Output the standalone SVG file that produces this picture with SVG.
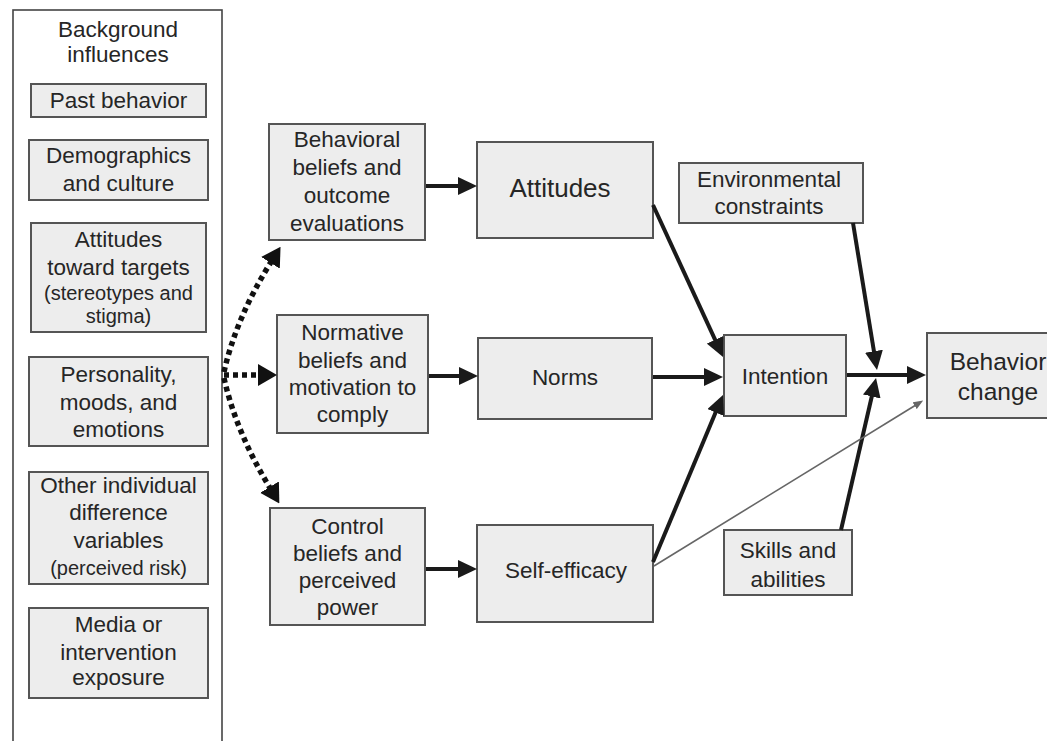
<svg xmlns="http://www.w3.org/2000/svg" width="1047" height="741" viewBox="0 0 1047 741">
<style>
.box{fill:#ededed;stroke:#555;stroke-width:2}
.outer{fill:#fff;stroke:#444;stroke-width:1.6}
text{font-family:"Liberation Sans",Arial,sans-serif;font-size:22.5px;fill:#262626;text-anchor:middle}
.sm{font-size:20px}
.big{font-size:26px}
.bc{font-size:24.5px}
.arr{fill:none;stroke:#1a1a1a;stroke-width:4}
.dot{fill:none;stroke:#111;stroke-width:5.5;stroke-dasharray:5 4}
.thin{fill:none;stroke:#666;stroke-width:1.6}
</style>
<defs>
<marker id="ah" markerUnits="userSpaceOnUse" markerWidth="19" markerHeight="18" refX="1" refY="9" orient="auto" viewBox="0 0 19 18">
<path d="M0,0 L19,9 L0,18 z" fill="#1a1a1a"/>
</marker>
<marker id="ahd" markerUnits="userSpaceOnUse" markerWidth="19" markerHeight="22" refX="1" refY="11" orient="auto" viewBox="0 0 19 22">
<path d="M0,0 L19,11 L0,22 z" fill="#111"/>
</marker>
<marker id="aht" markerUnits="userSpaceOnUse" markerWidth="10" markerHeight="8" refX="1" refY="4" orient="auto" viewBox="0 0 10 8">
<path d="M0,0 L10,4 L0,8 z" fill="#666"/>
</marker>
</defs>

<g id="background-influences">
<rect class="outer" x="13" y="10" width="209" height="760"/>
<text x="118" y="37">Background</text>
<text x="118" y="62">influences</text>
</g>
<g id="past-behavior">
<rect class="box" x="31" y="84" width="175" height="33"/>
<text x="118.5" y="108">Past behavior</text>
</g>
<g id="demographics">
<rect class="box" x="29" y="140" width="179" height="60"/>
<text x="118.5" y="163">Demographics</text>
<text x="118.5" y="191">and culture</text>
</g>
<g id="attitudes-toward-targets">
<rect class="box" x="31" y="223" width="175" height="109"/>
<text x="118.5" y="247">Attitudes</text>
<text x="118.5" y="275">toward targets</text>
<text class="sm" x="118.5" y="300">(stereotypes and</text>
<text class="sm" x="118.5" y="323">stigma)</text>
</g>
<g id="personality">
<rect class="box" x="29" y="357" width="179" height="89"/>
<text x="118.5" y="382">Personality,</text>
<text x="118.5" y="410">moods, and</text>
<text x="118.5" y="437">emotions</text>
</g>
<g id="other-individual">
<rect class="box" x="29" y="472" width="179" height="112"/>
<text x="118.5" y="493">Other individual</text>
<text x="118.5" y="520">difference</text>
<text x="118.5" y="548">variables</text>
<text class="sm" x="118.5" y="575">(perceived risk)</text>
</g>
<g id="media">
<rect class="box" x="29" y="608" width="179" height="90"/>
<text x="118.5" y="632">Media or</text>
<text x="118.5" y="660">intervention</text>
<text x="118.5" y="685">exposure</text>
</g>

<g id="behavioral-beliefs">
<rect class="box" x="269" y="124" width="156" height="116"/>
<text x="347" y="147">Behavioral</text>
<text x="347" y="175">beliefs and</text>
<text x="347" y="203">outcome</text>
<text x="347" y="231">evaluations</text>
</g>
<g id="normative-beliefs">
<rect class="box" x="277" y="315" width="151" height="118"/>
<text x="352.5" y="340">Normative</text>
<text x="352.5" y="368">beliefs and</text>
<text x="352.5" y="395">motivation to</text>
<text x="352.5" y="422">comply</text>
</g>
<g id="control-beliefs">
<rect class="box" x="270" y="508" width="155" height="117"/>
<text x="347.5" y="534">Control</text>
<text x="347.5" y="561">beliefs and</text>
<text x="347.5" y="588">perceived</text>
<text x="347.5" y="615">power</text>
</g>
<g id="attitudes">
<rect class="box" x="477" y="142" width="176" height="96"/>
<text class="big" x="560" y="197">Attitudes</text>
</g>
<g id="norms">
<rect class="box" x="478" y="338" width="174" height="81"/>
<text x="565" y="385">Norms</text>
</g>
<g id="self-efficacy">
<rect class="box" x="477" y="525" width="176" height="97"/>
<text x="566" y="578">Self-efficacy</text>
</g>
<g id="intention">
<rect class="box" x="724" y="335" width="122" height="81"/>
<text x="785" y="384">Intention</text>
</g>
<g id="behavior-change">
<rect class="box" x="927" y="333" width="140" height="85"/>
<text class="bc" x="998" y="370">Behavior</text>
<text class="bc" x="998" y="400">change</text>
</g>
<g id="environmental-constraints">
<rect class="box" x="679" y="163" width="184" height="60"/>
<text x="769" y="187">Environmental</text>
<text x="769" y="214">constraints</text>
</g>
<g id="skills">
<rect class="box" x="724" y="530" width="128" height="65"/>
<text x="788" y="558">Skills and</text>
<text x="788" y="587">abilities</text>
</g>

<g id="connectors">
<path class="dot" d="M224,375 L259,375" marker-end="url(#ahd)"/>
<path class="dot" d="M224,372 Q236,318 271,262" marker-end="url(#ahd)"/>
<path class="dot" d="M224,378 Q236,432 270,488" marker-end="url(#ahd)"/>
<path class="arr" d="M426,186 L459,186" marker-end="url(#ah)"/>
<path class="arr" d="M429,376 L460,376" marker-end="url(#ah)"/>
<path class="arr" d="M426,569 L459,569" marker-end="url(#ah)"/>
<path class="arr" d="M653,205 L715.5,340.7" marker-end="url(#ah)"/>
<path class="arr" d="M653,377 L705,377" marker-end="url(#ah)"/>
<path class="arr" d="M653,562 L716,411.6" marker-end="url(#ah)"/>
<path class="arr" d="M847,375 L908,375" marker-end="url(#ah)"/>
<path class="arr" d="M853,223 L874.1,352.2" marker-end="url(#ah)"/>
<path class="arr" d="M841,530 L872,395.5" marker-end="url(#ah)"/>
<path class="thin" d="M654,566 L915.5,405.2" marker-end="url(#aht)"/>
</g>
</svg>
